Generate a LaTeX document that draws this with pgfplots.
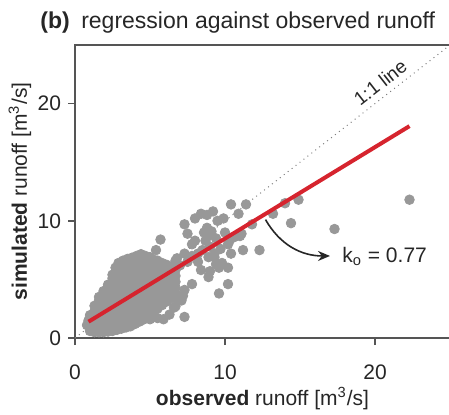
\documentclass[border=0pt]{standalone}
\usepackage{fontspec}
\setmainfont{Liberation Sans}
\usepackage{pgfplots}
\pgfplotsset{compat=1.18}
\usetikzlibrary{arrows.meta}
\definecolor{ptgray}{RGB}{152,152,152}
\definecolor{lred}{RGB}{214,36,46}
\definecolor{axgray}{RGB}{85,85,85}
\begin{document}
\begin{tikzpicture}
\begin{axis}[name=ax, scale only axis, width=187.5pt, height=146.5pt,
  xmin=0, xmax=25, ymin=0, ymax=25,
  xtick={0,10,20}, ytick={0,10,20},
  tick align=outside, major tick length=3.5pt,
  xtick pos=left, ytick pos=left,
  clip marker paths=true,
  axis line style={axgray, line width=0.75pt},
  tick style={axgray, line width=0.75pt},
  ticklabel style={font=\fontsize{10.5}{12}\selectfont, text=black!85},
  xticklabel style={yshift=-6.5pt},
  /pgf/number format/assume math mode=true,
  xlabel={\textbf{observed} runoff [m\textsuperscript{3}/s]},
  ylabel={\textbf{simulated} runoff [m\textsuperscript{3}/s]},
  label style={font=\fontsize{10.5}{12}\selectfont, text=black!85},
  xlabel style={at={(axis description cs:0.5,-0.205)}, anchor=center},
  ylabel style={at={(axis description cs:-0.147,0.5)}, anchor=center},
]
\addplot[gray, dotted, line width=0.5pt] coordinates {(0,0) (25,25)};
\addplot[only marks, mark=*, mark size=2.4pt, color=ptgray] coordinates {
(1.0,0.6)(1.0,1.05)(1.0,1.5)(1.0,1.95)(0.8,1.1)(0.9,1.5)
(1.3,0.5)(1.3,0.95)(1.3,1.4)(1.3,1.85)(1.3,2.3)(1.3,2.75)
(1.6,0.5)(1.6,0.95)(1.6,1.4)(1.6,1.85)(1.6,2.3)(1.6,2.75)(1.6,3.2)(1.6,3.5)
(1.9,0.5)(1.9,0.95)(1.9,1.4)(1.9,1.85)(1.9,2.3)(1.9,2.75)(1.9,3.2)(1.9,3.65)(1.9,4.0)
(2.2,0.55)(2.2,1.0)(2.2,1.45)(2.2,1.9)(2.2,2.35)(2.2,2.8)(2.2,3.25)(2.2,3.7)(2.2,4.15)(2.2,4.55)
(2.5,0.6)(2.5,1.05)(2.5,1.5)(2.5,1.95)(2.5,2.4)(2.5,2.85)(2.5,3.3)(2.5,3.75)(2.5,4.2)(2.5,4.65)(2.5,5.1)(2.5,5.4)
(2.8,0.7)(2.8,1.15)(2.8,1.6)(2.8,2.05)(2.8,2.5)(2.8,2.95)(2.8,3.4)(2.8,3.85)(2.8,4.3)(2.8,4.75)(2.8,5.2)(2.8,5.65)(2.7,6.0)(2.9,6.4)
(3.1,0.8)(3.1,1.25)(3.1,1.7)(3.1,2.15)(3.1,2.6)(3.1,3.05)(3.1,3.5)(3.1,3.95)(3.1,4.4)(3.1,4.85)(3.1,5.3)(3.1,5.75)(3.1,6.2)(3.2,6.6)
(3.4,0.9)(3.4,1.35)(3.4,1.8)(3.4,2.25)(3.4,2.7)(3.4,3.15)(3.4,3.6)(3.4,4.05)(3.4,4.5)(3.4,4.95)(3.4,5.4)(3.4,5.85)(3.4,6.3)(3.5,6.75)
(3.7,1.0)(3.7,1.45)(3.7,1.9)(3.7,2.35)(3.7,2.8)(3.7,3.25)(3.7,3.7)(3.7,4.15)(3.7,4.6)(3.7,5.05)(3.7,5.5)(3.7,5.95)(3.7,6.4)(3.8,6.85)
(4.0,1.2)(4.0,1.65)(4.0,2.1)(4.0,2.55)(4.0,3.0)(4.0,3.45)(4.0,3.9)(4.0,4.35)(4.0,4.8)(4.0,5.25)(4.0,5.7)(4.0,6.15)(4.0,6.6)(4.1,7.0)
(4.3,1.4)(4.3,1.85)(4.3,2.3)(4.3,2.75)(4.3,3.2)(4.3,3.65)(4.3,4.1)(4.3,4.55)(4.3,5.0)(4.3,5.45)(4.3,5.9)(4.3,6.35)(4.3,6.8)(4.4,7.15)
(4.6,1.6)(4.6,2.05)(4.6,2.5)(4.6,2.95)(4.6,3.4)(4.6,3.85)(4.6,4.3)(4.6,4.75)(4.6,5.2)(4.6,5.65)(4.6,6.1)(4.6,6.55)(4.7,7.0)
(4.9,1.9)(4.9,2.35)(4.9,2.8)(4.9,3.25)(4.9,3.7)(4.9,4.15)(4.9,4.6)(4.9,5.05)(4.9,5.5)(4.9,5.95)(4.9,6.4)(5.0,6.9)
(5.2,2.2)(5.2,2.65)(5.2,3.1)(5.2,3.55)(5.2,4.0)(5.2,4.45)(5.2,4.9)(5.2,5.35)(5.2,5.8)(5.2,6.25)(5.2,6.7)
(5.5,2.5)(5.5,2.95)(5.5,3.4)(5.5,3.85)(5.5,4.3)(5.5,4.75)(5.5,5.2)(5.5,5.65)(5.5,6.1)(5.5,6.6)
(5.8,2.8)(5.8,3.25)(5.8,3.7)(5.8,4.15)(5.8,4.6)(5.8,5.05)(5.8,5.5)(5.8,5.95)(5.8,6.4)
(6.1,3.1)(6.1,3.55)(6.1,4.0)(6.1,4.45)(6.1,4.9)(6.1,5.35)(6.1,5.8)(6.1,6.25)
(6.4,3.4)(6.4,3.85)(6.4,4.3)(6.4,4.75)(6.4,5.2)(6.4,5.65)(6.4,6.1)
(6.7,3.8)(6.7,4.3)(6.7,4.8)(6.7,5.3)(6.7,5.8)
(4.4,1.5)(5.0,1.6)(5.5,1.7)(5.9,1.6)(6.3,2.0)(6.6,2.6)(7.3,1.8)(6.9,3.2)(7.2,3.6)(7.1,3.2)(6.7,2.7)
(7.3,4.1)(7.8,4.6)(8.4,5.8)(8.9,5.2)(9.6,6.0)(10.2,6.0)(9.6,3.8)(10.2,4.6)(9.0,5.7)(9.4,6.3)(9.8,6.4)
(5.7,8.4)(5.4,7.5)(6.7,6.6)(7.3,7.2)(8.2,7.2)(8.9,6.9)(9.3,6.9)(10.2,8.0)(11.1,8.9)(10.4,7.2)
(6.8,6.8)(7.0,6.2)(7.5,6.5)(7.8,7.0)(8.2,6.5)(8.5,7.5)(9.0,7.8)(9.3,7.2)(9.7,7.6)(10.3,8.3)(10.6,8.6)(10.0,9.0)
(7.3,9.7)(7.5,8.9)(8.0,10.2)(8.4,10.6)(8.8,10.5)(9.2,10.8)(9.5,10.0)(8.8,9.4)(8.6,9.0)(9.0,8.8)(9.4,8.5)(8.0,8.3)(7.8,8.0)(8.7,8.3)(9.1,9.1)
(10.4,11.4)(11.4,11.4)(10.9,10.6)(9.9,10.2)(11.2,7.5)(12.3,7.5)(11.0,8.7)(11.8,9.7)(13.2,10.6)(14.0,11.5)(14.9,11.8)(14.4,9.8)(17.3,9.3)(22.3,11.8)
};
\addplot[lred, line width=2pt] coordinates {(0.9,1.39) (22.3,18.08)};
\node[rotate=38, anchor=south, inner sep=3pt, font=\fontsize{9.5}{11}\selectfont, text=black!85] at (axis cs:20.9,20.9) {1:1 line};
\draw[-{Stealth[length=6pt,width=5pt]}, line width=0.8pt, black!85] (axis cs:12.7,10.1) to[out=-60, in=180] (axis cs:17.0,7.0);
\node[anchor=west, font=\fontsize{10.5}{12}\selectfont, text=black!85, inner sep=0pt] at (axis cs:17.8,6.95) {k\textsubscript{o} = 0.77};
\end{axis}
\node[anchor=base west, font=\fontsize{11.5}{13}\selectfont, text=black!85, inner sep=0pt] at ([xshift=-17.5pt,yshift=8.5pt]ax.north west) {\textbf{(b)}\hspace{0.5em}regression against observed runoff};
\pgfresetboundingbox
\path ([xshift=-37.5pt,yshift=-38pt]ax.south west) rectangle ([xshift=187pt,yshift=169pt]ax.south west);
\end{tikzpicture}
\end{document}
